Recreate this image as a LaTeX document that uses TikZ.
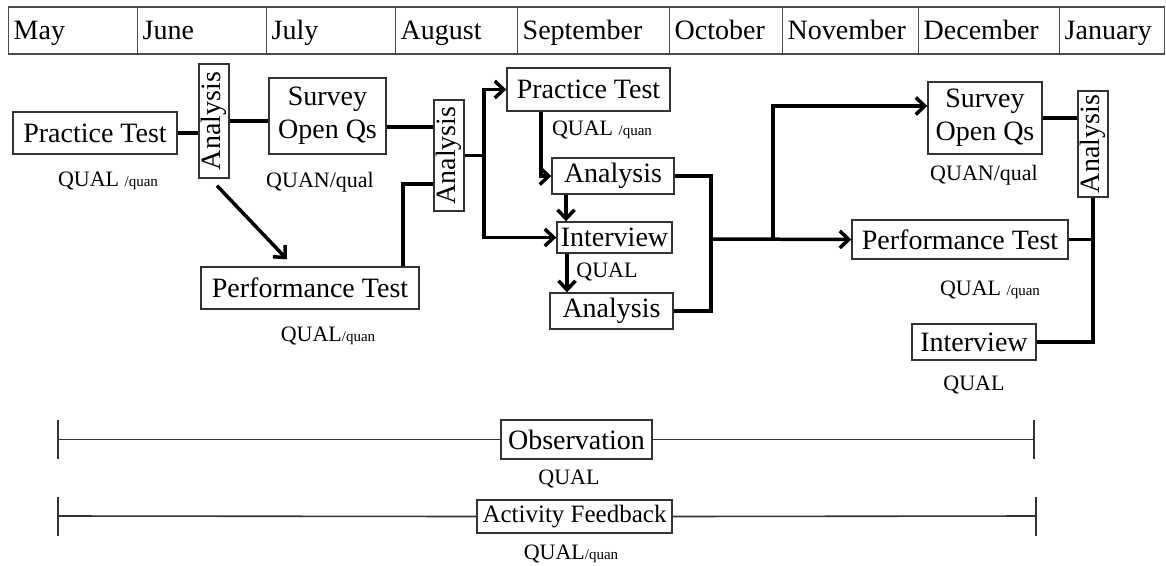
\documentclass[tikz,border=0pt]{standalone}
\usepackage{fontspec}
\setmainfont{Liberation Serif}
\usetikzlibrary{positioning,arrows.meta}

\tikzset{
  box/.style={draw=black!80, line width=1.4pt, inner sep=0pt, font=\fontsize{28}{33}\selectfont},
  vbox/.style={box, rotate=90, minimum height=30pt},
  month/.style={draw=black!70, line width=1.4pt, anchor=west, minimum height=47pt, inner xsep=5pt, inner ysep=0pt,
    text height=20pt, text depth=3pt, align=left, font=\fontsize{28}{33}\selectfont},
  tag/.style={inner sep=0pt, text height=15pt, text depth=0pt, font=\fontsize{22}{26}\selectfont},
  conn/.style={line width=3.5pt},
  tline/.style={line width=1.6pt, draw=black!80},
  >={Straight Barb[length=9pt,width=17pt]}
}
\newcommand{\sm}[1]{{\fontsize{15}{18}\selectfont #1}}

\begin{document}
\begin{tikzpicture}[x=1pt,y=-1pt]
  \useasboundingbox (0,0) rectangle (1166,565);
  % months
  \foreach \l/\r/\mon [count=\i] in {8/137/May,137/266/June,266/395/July,395/517/August,517/669/September,669/782/October,782/918/November,918/1059/December,1059/1164/January}
    \node[month, minimum width={(\r-\l)*1pt}, text width={(\r-\l-10)*1pt}] (m\i) at (\l,30.5) {\mon};

  % first round
  \node[box, minimum width=164pt, minimum height=42pt] (pt1) at (95,133) {Practice Test};
  \node[vbox, minimum width=114pt] (an1) at (214,121) {Analysis};
  \node[box, minimum width=117pt, minimum height=76pt, align=center] (sv1) at (327.5,116) {Survey\\Open Qs};
  \node[vbox, minimum width=111pt] (an2) at (449,155.5) {Analysis};
  \node[box, minimum width=218pt, minimum height=42pt] (pf1) at (310,288) {Performance Test};
  \node[tag] (q1) at (108,179) {QUAL \sm{/quan}};
  \node[tag] (q2) at (320,180) {QUAN/qual};
  \node[tag] (q3) at (328,334) {QUAL\sm{/quan}};

  % second round
  \node[box, minimum width=163pt, minimum height=43pt] (pt2) at (588.5,89.5) {Practice Test};
  \node[box, minimum width=122pt, minimum height=36pt] (an3) at (613,176) {Analysis};
  \node[box, minimum width=115pt, minimum height=31pt] (iv1) at (614.5,237.5) {Interview};
  \node[box, minimum width=123pt, minimum height=36pt] (an4) at (611.5,311) {Analysis};
  \node[tag] (q4) at (602,128) {QUAL \sm{/quan}};
  \node[tag] (q5) at (607,270) {QUAL};

  % third round
  \node[box, minimum width=114pt, minimum height=72pt, align=center] (sv2) at (985,118) {Survey\\Open Qs};
  \node[vbox, minimum width=106pt] (an5) at (1093,144) {Analysis};
  \node[box, minimum width=216pt, minimum height=39pt] (pf2) at (960,239.5) {Performance Test};
  \node[box, minimum width=124pt, minimum height=36pt] (iv2) at (974,342) {Interview};
  \node[tag] (q6) at (984,173) {QUAN/qual};
  \node[tag] (q7) at (990,288) {QUAL \sm{/quan}};
  \node[tag] (q8) at (974,383) {QUAL};

  % whole period
  \node[box, minimum width=151pt, minimum height=39pt] (obs) at (576.5,439.5) {Observation};
  \node[box, minimum width=195pt, minimum height=33pt, font=\fontsize{25}{30}\selectfont] (act) at (574.5,516.5) {Activity Feedback};
  \node[tag] (q9) at (569,477) {QUAL};
  \node[tag] (q10) at (571,552) {QUAL\sm{/quan}};

  \coordinate (bus) at (484,0);
  \coordinate (join) at (711,239);
  \coordinate (fork) at (773,239);
  \coordinate (obsL) at (58,439.5);
  \coordinate (obsR) at (1034,439.5);
  \coordinate (actL) at (58,516);
  \coordinate (actR) at (1036,516);

  % rotated boxes: north = left side, south = right side, west = bottom
  \draw[conn] (pt1.east) -- (pt1.east -| an1.north);
  \draw[conn] (an1.south) -- (an1.south -| sv1.west);
  \draw[conn] ([yshift=-11pt]sv1.east) -- ([yshift=-11pt]sv1.east -| an2.north);
  \draw[conn,->] ([xshift=3pt,yshift=-7pt]an1.west) -- ([xshift=-23pt,yshift=7pt]pf1.north);
  \draw[conn] (pf1.north -| 403,0) |- (an2.north |- 0,184);
  \draw[conn] (an2.south) -- (an2.south -| bus);
  \draw[conn,<->] (pt2.west) -- (pt2.west -| bus) -- (iv1.west -| bus) -- (iv1.west);
  \draw[conn,->] (pt2.south -| 541,0) |- (an3.west);
  \draw[conn,->] (an3.south -| 566,0) -- (iv1.north -| 566,0);
  \draw[conn,->] (iv1.south -| 567,0) -- (an4.north -| 567,0);
  \draw[conn] (an3.east) -| (join) |- (an4.east);
  \draw[conn,->] (join) -- (pf2.west);
  \draw[conn,->] (fork) |- ([yshift=12pt]sv2.west);
  \draw[conn] (sv2.east) -- (sv2.east -| an5.north);
  \draw[conn] (an5.west) |- (iv2.east);
  \draw[conn] (pf2.east) -- (pf2.east -| an5.west);

  \draw[tline] (obsL) -- (obs.west) (obs.east) -- (obsR);
  \draw[tline] ([yshift=19.5pt]obsL) -- ([yshift=-19.5pt]obsL);
  \draw[tline] ([yshift=19.5pt]obsR) -- ([yshift=-19.5pt]obsR);
  \draw[tline] (actL) -- (act.west) (act.east) -- (actR);
  \draw[tline] ([yshift=19.5pt]actL) -- ([yshift=-19.5pt]actL);
  \draw[tline] ([yshift=19.5pt]actR) -- ([yshift=-19.5pt]actR);
\end{tikzpicture}
\end{document}
